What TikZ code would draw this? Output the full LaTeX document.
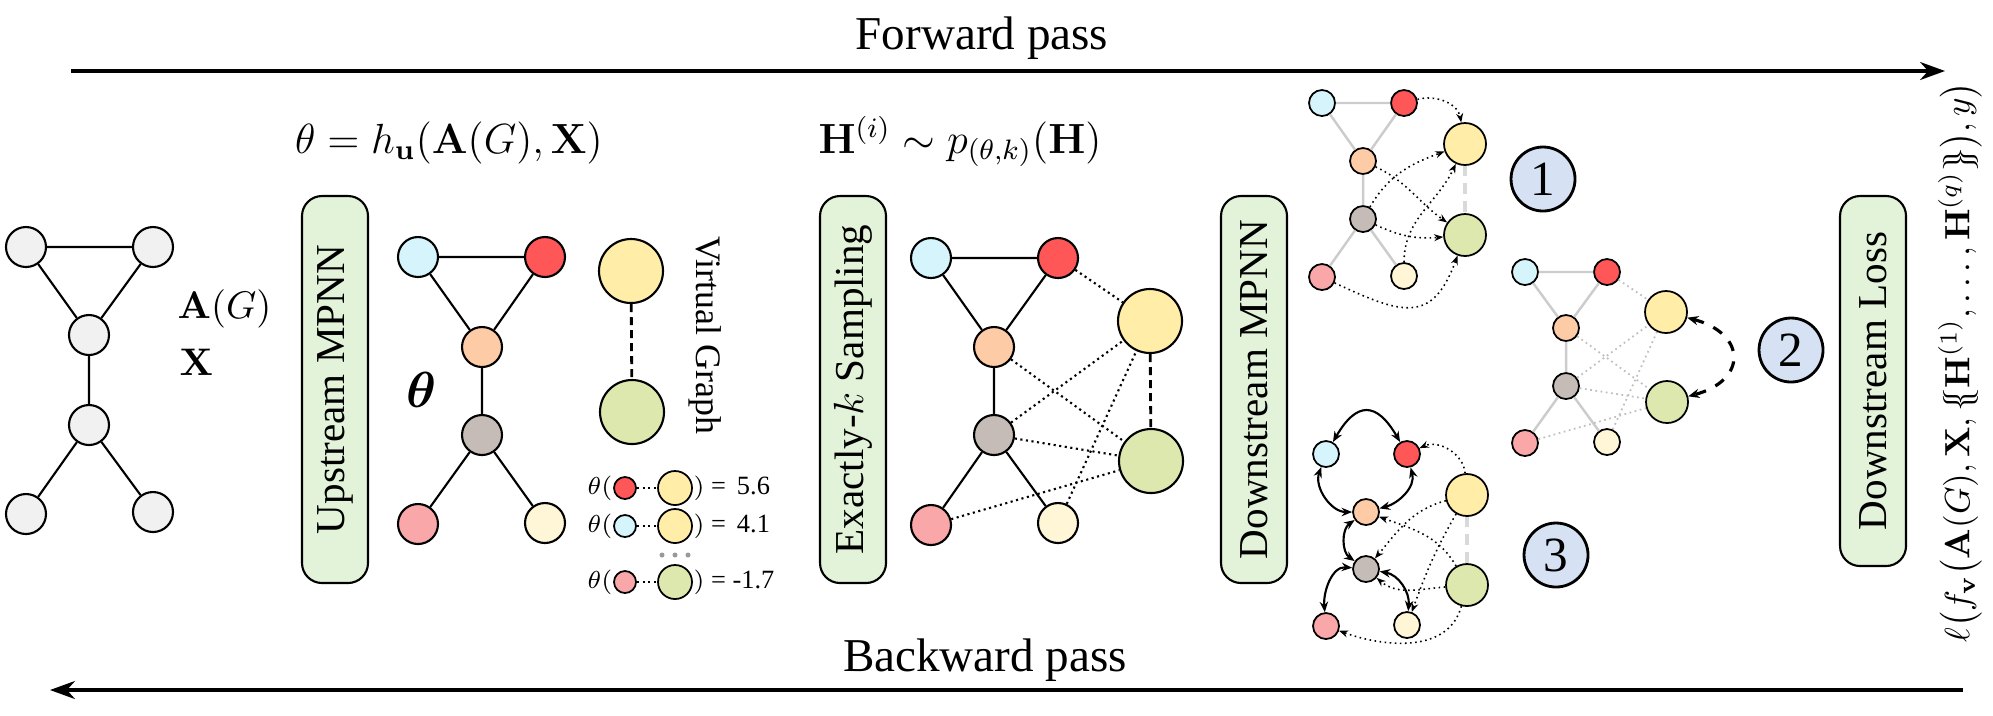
\documentclass[tikz,border=0pt]{standalone}
\usepackage[no-math]{fontspec}
\setmainfont{Liberation Serif}
\usepackage{bm}
\usetikzlibrary{arrows.meta}
\definecolor{nodegray}{HTML}{F1F1F1}
\definecolor{cblue}{HTML}{D5F4FC}
\definecolor{cred}{HTML}{FF5657}
\definecolor{corange}{HTML}{FDCBA6}
\definecolor{cbrown}{HTML}{C6BCB7}
\definecolor{cpink}{HTML}{F9A7A9}
\definecolor{clight}{HTML}{FFF6D7}
\definecolor{cyellow}{HTML}{FFEDA8}
\definecolor{cgreen}{HTML}{DDE8AE}
\definecolor{boxgreen}{HTML}{E2F3D9}
\definecolor{numblue}{HTML}{D6E2F3}
\begin{document}
\begin{tikzpicture}[%
% common options for the processing boxes:
block/.style = {draw, fill=boxgreen, rounded corners=0.2cm, rotate=90,
            line width=0.6pt, minimum width=3.87cm, minimum height=0.66cm,
            inner sep=0, font=\fontsize{11.7}{14}\selectfont},
% common options for the circles of the big graphs:
ball/.style = {circle, draw, line width=0.6pt, minimum size=0.4cm, inner sep=0},
bigball/.style = {ball, minimum size=0.64cm},
% circles of the small graphs and of the legend:
pball/.style = {circle, draw, line width=0.5pt, minimum size=0.26cm, inner sep=0},
pbig/.style = {pball, minimum size=0.42cm},
lball/.style = {circle, draw, line width=0.5pt, minimum size=0.22cm, inner sep=0},
lbig/.style = {lball, minimum size=0.34cm},
num/.style = {circle, draw, fill=numblue, line width=0.8pt, minimum size=0.64cm,
            inner sep=0, font=\fontsize{14}{16}\selectfont},
legend/.style = {inner sep=0, font=\fontsize{7.5}{9}\selectfont},
% lines:
link/.style = {line width=0.6pt},
vlink/.style = {line width=0.8pt, dash pattern=on 2.3pt off 1.4pt},
slink/.style = {line width=0.6pt, densely dotted},
gedge/.style = {line width=0.7pt, black!20},
gdot/.style = {line width=0.5pt, black!25, densely dotted},
gdash/.style = {line width=0.9pt, black!15, dash pattern=on 3pt off 2pt},
msg/.style = {line width=0.45pt, densely dotted, -{Stealth[length=2.6pt,width=2pt]}},
mutual/.style = {line width=0.6pt, {Stealth[length=3pt,width=2.4pt]}-{Stealth[length=3pt,width=2.4pt]}},
vswap/.style = {line width=0.9pt, dashed, {Stealth[length=3.2pt,width=2.6pt]}-{Stealth[length=3.2pt,width=2.6pt]}},
passarrow/.style = {line width=0.9pt, -{Stealth[length=0.25cm,width=0.18cm]}}]
\useasboundingbox (0,0) rectangle (19.93,-7.15);
% forward and backward pass
\coordinate (fw0) at (0.71,-0.71);
\coordinate (fw1) at (19.45,-0.71);
\draw[passarrow] (fw0) -- (fw1);
\node[font=\fontsize{13.4}{16}\selectfont] (fwt) at (9.82,-0.38) {Forward pass};
\coordinate (bw0) at (19.63,-6.90);
\coordinate (bw1) at (0.50,-6.90);
\draw[passarrow] (bw0) -- (bw1);
\node[font=\fontsize{13.4}{16}\selectfont] (bwt) at (9.85,-6.60) {Backward pass};
% input graph
\node[ball, fill=nodegray] (G1) at (0.26,-2.47) {};
\node[ball, fill=nodegray] (G2) at (1.53,-2.47) {};
\node[ball, fill=nodegray] (G3) at (0.89,-3.35) {};
\node[ball, fill=nodegray] (G4) at (0.89,-4.25) {};
\node[ball, fill=nodegray] (G5) at (0.26,-5.14) {};
\node[ball, fill=nodegray] (G6) at (1.53,-5.12) {};
\draw[link] (G1) -- (G2) (G1) -- (G3) (G2) -- (G3) (G3) -- (G4) (G4) -- (G5) (G4) -- (G6);
\node[anchor=base west, inner sep=0, font=\fontsize{10.8}{13}\selectfont] (AG) at (1.77,-3.18) {$\mathbf{A}(G)$};
\node[anchor=base west, inner sep=0, font=\fontsize{10.8}{13}\selectfont] (XX) at (1.79,-3.75) {$\mathbf{X}$};
% upstream model
\node[block] (up) at (3.35,-3.895) {Upstream MPNN};
\node[anchor=base, font=\fontsize{11.7}{14}\selectfont] (thf) at (4.49,-1.53) {$\theta = h_{\mathbf{u}}(\mathbf{A}(G),\mathbf{X})$};
\node[ball, fill=cblue] (U1) at (4.18,-2.57) {};
\node[ball, fill=cred] (U2) at (5.45,-2.57) {};
\node[ball, fill=corange] (U3) at (4.82,-3.47) {};
\node[ball, fill=cbrown] (U4) at (4.82,-4.35) {};
\node[ball, fill=cpink] (U5) at (4.18,-5.24) {};
\node[ball, fill=clight] (U6) at (5.45,-5.23) {};
\draw[link] (U1) -- (U2) (U1) -- (U3) (U2) -- (U3) (U3) -- (U4) (U4) -- (U5) (U4) -- (U6);
\node[font=\fontsize{13.4}{16}\selectfont] (thl) at (4.22,-3.90) {$\bm{\theta}$};
\node[bigball, fill=cyellow] (V1) at (6.31,-2.71) {};
\node[bigball, fill=cgreen] (V2) at (6.32,-4.12) {};
\draw[vlink] (V1) -- (V2);
\node[rotate=-90, font=\fontsize{10.2}{12}\selectfont] (vg) at (7.05,-3.35) {Virtual Graph};
% legend of the scores
\node[lball, fill=cred] (L1a) at (6.25,-4.88) {};
\node[lbig, fill=cyellow] (L1b) at (6.75,-4.88) {};
\draw[slink] (L1a) -- (L1b);
\node[legend, anchor=east] (L1t) at (L1a.west) {$\theta($};
\node[legend, anchor=west] (L1v) at (L1b.east) {$)$ = \,5.6};
\node[lball, fill=cblue] (L2a) at (6.25,-5.26) {};
\node[lbig, fill=cyellow] (L2b) at (6.75,-5.26) {};
\draw[slink] (L2a) -- (L2b);
\node[legend, anchor=east] (L2t) at (L2a.west) {$\theta($};
\node[legend, anchor=west] (L2v) at (L2b.east) {$)$ = \,4.1};
\fill[black!40] (6.62,-5.55) circle (0.025) (6.75,-5.55) circle (0.025) (6.88,-5.55) circle (0.025);
\node[lball, fill=cpink] (L3a) at (6.25,-5.82) {};
\node[lbig, fill=cgreen] (L3b) at (6.75,-5.82) {};
\draw[slink] (L3a) -- (L3b);
\node[legend, anchor=east] (L3t) at (L3a.west) {$\theta($};
\node[legend, anchor=west] (L3v) at (L3b.east) {$)$ = -1.7};
% sampling
\node[block] (samp) at (8.53,-3.895) {Exactly-$k$ Sampling};
\node[anchor=base, font=\fontsize{11.7}{14}\selectfont] (hf) at (9.60,-1.53) {$\mathbf{H}^{(i)} \sim p_{(\theta,k)}(\mathbf{H})$};
\node[ball, fill=cblue] (S1) at (9.31,-2.58) {};
\node[ball, fill=cred] (S2) at (10.58,-2.58) {};
\node[ball, fill=corange] (S3) at (9.94,-3.47) {};
\node[ball, fill=cbrown] (S4) at (9.94,-4.35) {};
\node[ball, fill=cpink] (S5) at (9.31,-5.25) {};
\node[ball, fill=clight] (S6) at (10.58,-5.23) {};
\node[bigball, fill=cyellow] (S7) at (11.50,-3.21) {};
\node[bigball, fill=cgreen] (S8) at (11.51,-4.61) {};
\draw[link] (S1) -- (S2) (S1) -- (S3) (S2) -- (S3) (S3) -- (S4) (S4) -- (S5) (S4) -- (S6);
\draw[slink] (S2) -- (S7) (S3) -- (S8) (S4) -- (S7) (S4) -- (S8) (S5) -- (S8) (S6) -- (S7);
\draw[vlink] (S7) -- (S8);
% downstream model
\node[block] (down) at (12.54,-3.895) {Downstream MPNN};
% panel 1
\node[pball, fill=cblue] (A1) at (13.22,-1.03) {};
\node[pball, fill=cred] (A2) at (14.04,-1.03) {};
\node[pball, fill=corange] (A3) at (13.63,-1.61) {};
\node[pball, fill=cbrown] (A4) at (13.63,-2.19) {};
\node[pball, fill=cpink] (A5) at (13.22,-2.77) {};
\node[pball, fill=clight] (A6) at (14.04,-2.76) {};
\node[pbig, fill=cyellow] (A7) at (14.65,-1.44) {};
\node[pbig, fill=cgreen] (A8) at (14.65,-2.35) {};
\draw[gedge] (A1) -- (A2) (A1) -- (A3) (A2) -- (A3) (A3) -- (A4) (A4) -- (A5) (A4) -- (A6);
\draw[gdash] (A7) -- (A8);
\draw[msg] (A2) to[out=15,in=100] (A7);
\draw[msg] (A3) to[out=-25,in=145] (A8);
\draw[msg] (A4) to[out=60,in=200] (A7);
\draw[msg] (A4) to[out=-25,in=185] (A8);
\draw[msg] (A6) to[out=90,in=245] (A7);
\draw[msg] (A5) to[out=-25,in=250,looseness=1.5] (A8);
\node[num] (N1) at (15.43,-1.79) {1};
% panel 2
\node[pball, fill=cblue] (B1) at (15.25,-2.72) {};
\node[pball, fill=cred] (B2) at (16.07,-2.72) {};
\node[pball, fill=corange] (B3) at (15.66,-3.28) {};
\node[pball, fill=cbrown] (B4) at (15.66,-3.86) {};
\node[pball, fill=cpink] (B5) at (15.25,-4.43) {};
\node[pball, fill=clight] (B6) at (16.07,-4.42) {};
\node[pbig, fill=cyellow] (B7) at (16.66,-3.12) {};
\node[pbig, fill=cgreen] (B8) at (16.67,-4.02) {};
\draw[gedge] (B1) -- (B2) (B1) -- (B3) (B2) -- (B3) (B3) -- (B4) (B4) -- (B5) (B4) -- (B6);
\draw[gdot] (B2) -- (B7) (B3) -- (B8) (B4) -- (B7) (B4) -- (B8) (B5) -- (B8) (B6) -- (B7);
\draw[vswap] (B7) to[out=-15,in=15,looseness=2] (B8);
\node[num] (N2) at (17.91,-3.50) {2};
% panel 3
\node[pball, fill=cblue] (C1) at (13.26,-4.54) {};
\node[pball, fill=cred] (C2) at (14.07,-4.54) {};
\node[pball, fill=corange] (C3) at (13.66,-5.12) {};
\node[pball, fill=cbrown] (C4) at (13.66,-5.69) {};
\node[pball, fill=cpink] (C5) at (13.26,-6.26) {};
\node[pball, fill=clight] (C6) at (14.07,-6.25) {};
\node[pbig, fill=cyellow] (C7) at (14.67,-4.95) {};
\node[pbig, fill=cgreen] (C8) at (14.67,-5.85) {};
\draw[gdash] (C7) -- (C8);
\draw[mutual] (C1) to[out=60,in=120,looseness=1.8] (C2);
\draw[mutual] (C1) to[out=250,in=180] (C3);
\draw[mutual] (C2) to[out=-75,in=15] (C3);
\draw[mutual] (C3) to[out=215,in=145] (C4);
\draw[mutual] (C4) to[out=175,in=95] (C5);
\draw[mutual] (C4) to[out=-10,in=85] (C6);
\draw[msg] (C7) to[out=95,in=25] (C2);
\draw[msg] (C7) to[out=195,in=50] (C4);
\draw[msg] (C7) to[out=240,in=70] (C6);
\draw[msg] (C8) to[out=120,in=-20] (C3);
\draw[msg] (C8) to[out=185,in=-40] (C4);
\draw[msg] (C8) to[out=255,in=-20] (C5);
\node[num] (N3) at (15.56,-5.55) {3};
% loss
\node[block, minimum width=3.70cm] (loss) at (18.73,-3.81) {Downstream Loss};
\node[rotate=90, font=\fontsize{10.2}{12}\selectfont] (lf) at (19.60,-3.62)
  {$\ell\big(f_{\mathbf{v}}\big(\mathbf{A}(G),\mathbf{X},\{\!\!\{\mathbf{H}^{(1)},\ldots,\mathbf{H}^{(q)}\}\!\!\}\big),y\big)$};
\end{tikzpicture}
\end{document}
